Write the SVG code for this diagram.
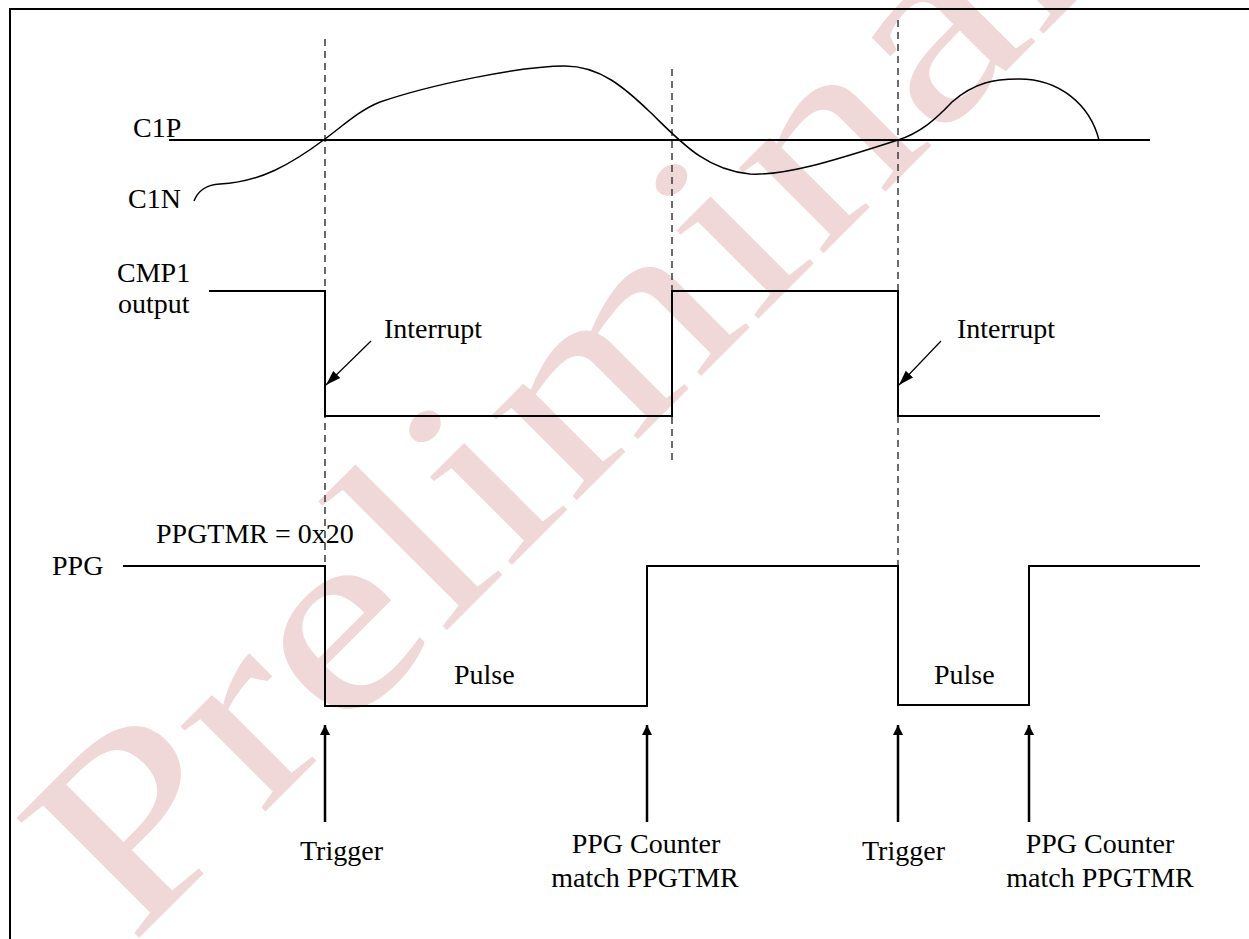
<svg xmlns="http://www.w3.org/2000/svg" width="1249" height="939" viewBox="0 0 1249 939">
<style>
  text { font-family: "Liberation Serif", "Times New Roman", serif; font-size: 28px; fill: #000; }
  .wm { font-family: "Liberation Serif", "Times New Roman", serif; font-size: 262px; fill: #f0d8d9; }
  .sig { fill: none; stroke: #000; stroke-width: 2; }
  .curve { fill: none; stroke: #000; stroke-width: 1.5; }
  .dash { fill: none; stroke: #3a3a3a; stroke-width: 1.5; stroke-dasharray: 7 5; }
  .up { fill: none; stroke: #000; stroke-width: 2.5; marker-end: url(#headUp); }
  .intr { fill: none; stroke: #000; stroke-width: 1.2; marker-end: url(#headI); }
  .mid { text-anchor: middle; }
</style>
<defs>
  <marker id="headUp" markerUnits="userSpaceOnUse" markerWidth="12" markerHeight="12" refX="10" refY="5" orient="auto" viewBox="0 0 12 10">
    <path d="M0,0 L10,5 L0,10 Z" fill="#000"/>
  </marker>
  <marker id="headI" markerUnits="userSpaceOnUse" markerWidth="16" markerHeight="12" refX="15" refY="5" orient="auto" viewBox="0 0 16 10">
    <path d="M0,0 L15,5 L0,10 Z" fill="#000"/>
  </marker>
</defs>
<rect width="1249" height="939" fill="#fff"/>
<g id="watermark">
  <text class="wm" transform="translate(131,946) rotate(-45) scale(1.26,1)">Preliminary</text>
</g>
<g id="frame">
  <path d="M10,939 V9 H1249" fill="none" stroke="#000" stroke-width="2"/>
</g>
<g id="guides">
  <line class="dash" x1="325" y1="39" x2="325" y2="706"/>
  <line class="dash" x1="672" y1="69" x2="672" y2="462"/>
  <line class="dash" x1="898" y1="20" x2="898" y2="566"/>
</g>
<g id="c1p">
  <line class="sig" x1="169" y1="140" x2="1150" y2="140"/>
  <text x="133" y="137">C1P</text>
</g>
<g id="c1n">
  <path class="curve" d="M194,201 C198,191 205,185 220,184 C260,182 290,165 325,139 C345,124 360,110 380,102 C430,85 520,66 565,66 C600,66 625,88 650,112 C680,141 705,170 750,174 C790,176 850,155 898,140 C920,133 935,120 952,102 C975,82 995,79 1019,79 C1060,79 1090,105 1099,140"/>
  <text x="128" y="208">C1N</text>
</g>
<g id="cmp1">
  <path class="sig" d="M209,291 H325 V416 H672 V291 H898 V416 H1100"/>
  <text x="117" y="282">CMP1</text>
  <text x="118" y="313">output</text>
</g>
<g id="ppg">
  <path class="sig" d="M123,566 H325 V706 H647 V566 H898 V705 H1029 V566 H1200"/>
  <text x="52" y="575">PPG</text>
  <text x="156" y="543">PPGTMR = 0x20</text>
  <text x="454" y="684">Pulse</text>
  <text x="934" y="684">Pulse</text>
</g>
<g id="connectors">
  <line class="intr" x1="371" y1="341" x2="326" y2="385"/>
  <line class="intr" x1="941" y1="341" x2="899" y2="385"/>
  <line class="up" x1="325" y1="822" x2="325" y2="725"/>
  <line class="up" x1="647" y1="822" x2="647" y2="725"/>
  <line class="up" x1="898" y1="822" x2="898" y2="725"/>
  <line class="up" x1="1029" y1="822" x2="1029" y2="725"/>
</g>
<g id="labels">
  <text x="384" y="338">Interrupt</text>
  <text x="957" y="338">Interrupt</text>
  <text x="300" y="860">Trigger</text>
  <text x="862" y="860">Trigger</text>
  <text class="mid" x="646" y="853">PPG Counter</text>
  <text class="mid" x="645" y="887">match PPGTMR</text>
  <text class="mid" x="1100" y="853">PPG Counter</text>
  <text class="mid" x="1100" y="887">match PPGTMR</text>
</g>
</svg>
